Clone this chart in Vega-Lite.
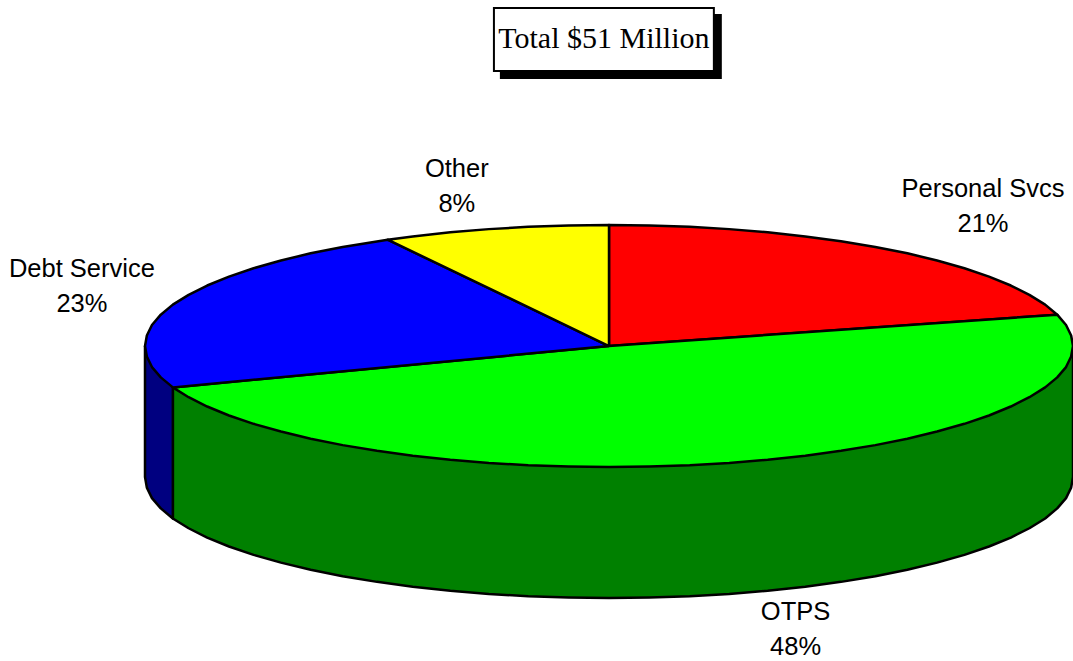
{"$schema":"https://vega.github.io/schema/vega-lite/v6.json","width":1073,"height":661,"padding":0,"autosize":{"type":"none"},"background":"white","config":{"view":{"stroke":null}},
"datasets":{"shape":[
{"part":"OTPS side","seq":0,"u":100,"v":0},{"part":"OTPS side","seq":1,"u":100,"v":-108.3},{"part":"OTPS side","seq":2,"u":99.6,"v":-117},{"part":"OTPS side","seq":3,"u":98.5,"v":-125.7},{"part":"OTPS side","seq":4,"u":96.6,"v":-134.2},{"part":"OTPS side","seq":5,"u":94,"v":-142.5},{"part":"OTPS side","seq":6,"u":90.6,"v":-150.6},{"part":"OTPS side","seq":7,"u":86.6,"v":-158.3},{"part":"OTPS side","seq":8,"u":81.9,"v":-165.7},{"part":"OTPS side","seq":9,"u":76.6,"v":-172.6},{"part":"OTPS side","seq":10,"u":70.7,"v":-179},{"part":"OTPS side","seq":11,"u":64.3,"v":-184.9},{"part":"OTPS side","seq":12,"u":57.4,"v":-190.2},{"part":"OTPS side","seq":13,"u":50,"v":-194.9},{"part":"OTPS side","seq":14,"u":42.3,"v":-198.9},{"part":"OTPS side","seq":15,"u":34.2,"v":-202.3},{"part":"OTPS side","seq":16,"u":25.9,"v":-204.9},{"part":"OTPS side","seq":17,"u":17.4,"v":-206.8},{"part":"OTPS side","seq":18,"u":8.7,"v":-207.9},{"part":"OTPS side","seq":19,"u":0,"v":-208.3},{"part":"OTPS side","seq":20,"u":-8.7,"v":-207.9},{"part":"OTPS side","seq":21,"u":-17.4,"v":-206.8},{"part":"OTPS side","seq":22,"u":-25.9,"v":-204.9},{"part":"OTPS side","seq":23,"u":-34.2,"v":-202.3},{"part":"OTPS side","seq":24,"u":-42.3,"v":-198.9},{"part":"OTPS side","seq":25,"u":-50,"v":-194.9},{"part":"OTPS side","seq":26,"u":-57.4,"v":-190.2},{"part":"OTPS side","seq":27,"u":-64.3,"v":-184.9},{"part":"OTPS side","seq":28,"u":-70.7,"v":-179},{"part":"OTPS side","seq":29,"u":-76.6,"v":-172.6},{"part":"OTPS side","seq":30,"u":-81.9,"v":-165.7},{"part":"OTPS side","seq":31,"u":-86.6,"v":-158.3},{"part":"OTPS side","seq":32,"u":-90.6,"v":-150.6},{"part":"OTPS side","seq":33,"u":-94,"v":-142.5},{"part":"OTPS side","seq":34,"u":-94,"v":-34.2},{"part":"OTPS side","seq":35,"u":100,"v":0},
{"part":"Debt Service side","seq":0,"u":-100,"v":0},{"part":"Debt Service side","seq":1,"u":-100,"v":-108.3},{"part":"Debt Service side","seq":2,"u":-99.6,"v":-117},{"part":"Debt Service side","seq":3,"u":-98.5,"v":-125.7},{"part":"Debt Service side","seq":4,"u":-96.6,"v":-134.2},{"part":"Debt Service side","seq":5,"u":-94,"v":-142.5},{"part":"Debt Service side","seq":6,"u":-94,"v":-34.2},{"part":"Debt Service side","seq":7,"u":-100,"v":0},
{"part":"Personal Svcs","seq":0,"u":0,"v":0},{"part":"Personal Svcs","seq":1,"u":0,"v":100},{"part":"Personal Svcs","seq":2,"u":8.7,"v":99.6},{"part":"Personal Svcs","seq":3,"u":17.4,"v":98.5},{"part":"Personal Svcs","seq":4,"u":25.9,"v":96.6},{"part":"Personal Svcs","seq":5,"u":34.2,"v":94},{"part":"Personal Svcs","seq":6,"u":42.3,"v":90.6},{"part":"Personal Svcs","seq":7,"u":50,"v":86.6},{"part":"Personal Svcs","seq":8,"u":57.4,"v":81.9},{"part":"Personal Svcs","seq":9,"u":64.3,"v":76.6},{"part":"Personal Svcs","seq":10,"u":70.7,"v":70.7},{"part":"Personal Svcs","seq":11,"u":76.6,"v":64.3},{"part":"Personal Svcs","seq":12,"u":81.9,"v":57.4},{"part":"Personal Svcs","seq":13,"u":86.6,"v":50},{"part":"Personal Svcs","seq":14,"u":90.6,"v":42.3},{"part":"Personal Svcs","seq":15,"u":94,"v":34.2},{"part":"Personal Svcs","seq":16,"u":96.6,"v":25.9},{"part":"Personal Svcs","seq":17,"u":0,"v":0},
{"part":"OTPS","seq":0,"u":0,"v":0},{"part":"OTPS","seq":1,"u":96.6,"v":25.9},{"part":"OTPS","seq":2,"u":98.5,"v":17.4},{"part":"OTPS","seq":3,"u":99.6,"v":8.7},{"part":"OTPS","seq":4,"u":100,"v":0},{"part":"OTPS","seq":5,"u":99.6,"v":-8.7},{"part":"OTPS","seq":6,"u":98.5,"v":-17.4},{"part":"OTPS","seq":7,"u":96.6,"v":-25.9},{"part":"OTPS","seq":8,"u":94,"v":-34.2},{"part":"OTPS","seq":9,"u":90.6,"v":-42.3},{"part":"OTPS","seq":10,"u":86.6,"v":-50},{"part":"OTPS","seq":11,"u":81.9,"v":-57.4},{"part":"OTPS","seq":12,"u":76.6,"v":-64.3},{"part":"OTPS","seq":13,"u":70.7,"v":-70.7},{"part":"OTPS","seq":14,"u":64.3,"v":-76.6},{"part":"OTPS","seq":15,"u":57.4,"v":-81.9},{"part":"OTPS","seq":16,"u":50,"v":-86.6},{"part":"OTPS","seq":17,"u":42.3,"v":-90.6},{"part":"OTPS","seq":18,"u":34.2,"v":-94},{"part":"OTPS","seq":19,"u":25.9,"v":-96.6},{"part":"OTPS","seq":20,"u":17.4,"v":-98.5},{"part":"OTPS","seq":21,"u":8.7,"v":-99.6},{"part":"OTPS","seq":22,"u":0,"v":-100},{"part":"OTPS","seq":23,"u":-8.7,"v":-99.6},{"part":"OTPS","seq":24,"u":-17.4,"v":-98.5},{"part":"OTPS","seq":25,"u":-25.9,"v":-96.6},{"part":"OTPS","seq":26,"u":-34.2,"v":-94},{"part":"OTPS","seq":27,"u":-42.3,"v":-90.6},{"part":"OTPS","seq":28,"u":-50,"v":-86.6},{"part":"OTPS","seq":29,"u":-57.4,"v":-81.9},{"part":"OTPS","seq":30,"u":-64.3,"v":-76.6},{"part":"OTPS","seq":31,"u":-70.7,"v":-70.7},{"part":"OTPS","seq":32,"u":-76.6,"v":-64.3},{"part":"OTPS","seq":33,"u":-81.9,"v":-57.4},{"part":"OTPS","seq":34,"u":-86.6,"v":-50},{"part":"OTPS","seq":35,"u":-90.6,"v":-42.3},{"part":"OTPS","seq":36,"u":-94,"v":-34.2},{"part":"OTPS","seq":37,"u":0,"v":0},
{"part":"Debt Service","seq":0,"u":0,"v":0},{"part":"Debt Service","seq":1,"u":-94,"v":-34.2},{"part":"Debt Service","seq":2,"u":-96.6,"v":-25.9},{"part":"Debt Service","seq":3,"u":-98.5,"v":-17.4},{"part":"Debt Service","seq":4,"u":-99.6,"v":-8.7},{"part":"Debt Service","seq":5,"u":-100,"v":0},{"part":"Debt Service","seq":6,"u":-99.6,"v":8.7},{"part":"Debt Service","seq":7,"u":-98.5,"v":17.4},{"part":"Debt Service","seq":8,"u":-96.6,"v":25.9},{"part":"Debt Service","seq":9,"u":-94,"v":34.2},{"part":"Debt Service","seq":10,"u":-90.6,"v":42.3},{"part":"Debt Service","seq":11,"u":-86.6,"v":50},{"part":"Debt Service","seq":12,"u":-81.9,"v":57.4},{"part":"Debt Service","seq":13,"u":-76.6,"v":64.3},{"part":"Debt Service","seq":14,"u":-70.7,"v":70.7},{"part":"Debt Service","seq":15,"u":-64.3,"v":76.6},{"part":"Debt Service","seq":16,"u":-57.4,"v":81.9},{"part":"Debt Service","seq":17,"u":-47.7,"v":87.9},{"part":"Debt Service","seq":18,"u":0,"v":0},
{"part":"Other","seq":0,"u":0,"v":0},{"part":"Other","seq":1,"u":-47.7,"v":87.9},{"part":"Other","seq":2,"u":-42.3,"v":90.6},{"part":"Other","seq":3,"u":-34.2,"v":94},{"part":"Other","seq":4,"u":-25.9,"v":96.6},{"part":"Other","seq":5,"u":-17.4,"v":98.5},{"part":"Other","seq":6,"u":-8.7,"v":99.6},{"part":"Other","seq":7,"u":0,"v":100},{"part":"Other","seq":8,"u":0,"v":0}
],
"labels":[{"label":"Personal Svcs\n21%","u":80.6,"v":129.8},{"label":"Other\n8%","u":-32.8,"v":146.3},{"label":"Debt Service\n23%","u":-113.6,"v":63.6},{"label":"OTPS\n48%","u":40.2,"v":-219.8}],
"box":[{"item":"shadow","u":-23.3,"u2":24.1,"v":273.6,"v2":221.5},{"item":"panel","u":-24.8,"u2":22.6,"v":279.3,"v2":227.3}],
"title":[{"label":"Total $51 Million","u":-1.1,"v":253.7}]},
"resolve":{"scale":{"fill":"independent"}},
"layer":[
{"data":{"name":"shape"},"mark":{"type":"line","strokeWidth":2.5,"stroke":"black","strokeJoin":"round","interpolate":"linear"},
"encoding":{
"x":{"field":"u","type":"quantitative","scale":{"domain":[-131.25,100],"nice":false,"zero":false},"axis":null},
"y":{"field":"v","type":"quantitative","scale":{"domain":[-260.3,285.95],"nice":false,"zero":false},"axis":null},
"order":{"field":"seq","type":"ordinal"},
"detail":{"field":"part"},
"fill":{"field":"part","type":"nominal","legend":null,"sort":null,"scale":{"domain":["OTPS side","Debt Service side","Personal Svcs","OTPS","Debt Service","Other"],"range":["#008000","#000080","#ff0000","#00ff00","#0000ff","#ffff00"]}}}},
{"data":{"name":"labels"},"mark":{"type":"text","font":"Liberation Sans","fontSize":25.5,"lineBreak":"\n","lineHeight":35,"align":"center","baseline":"middle","color":"black"},
"encoding":{"x":{"field":"u","type":"quantitative"},"y":{"field":"v","type":"quantitative"},"text":{"field":"label"}}},
{"data":{"name":"box"},"mark":{"type":"rect","strokeWidth":2},
"encoding":{"x":{"field":"u","type":"quantitative"},"x2":{"field":"u2"},"y":{"field":"v","type":"quantitative"},"y2":{"field":"v2"},
"fill":{"field":"item","type":"nominal","legend":null,"scale":{"domain":["shadow","panel"],"range":["black","white"]}},"stroke":{"value":"black"}}},
{"data":{"name":"title"},"mark":{"type":"text","font":"Liberation Serif","fontSize":30,"align":"center","baseline":"middle","color":"black"},
"encoding":{"x":{"field":"u","type":"quantitative"},"y":{"field":"v","type":"quantitative"},"text":{"field":"label"}}}
]}
